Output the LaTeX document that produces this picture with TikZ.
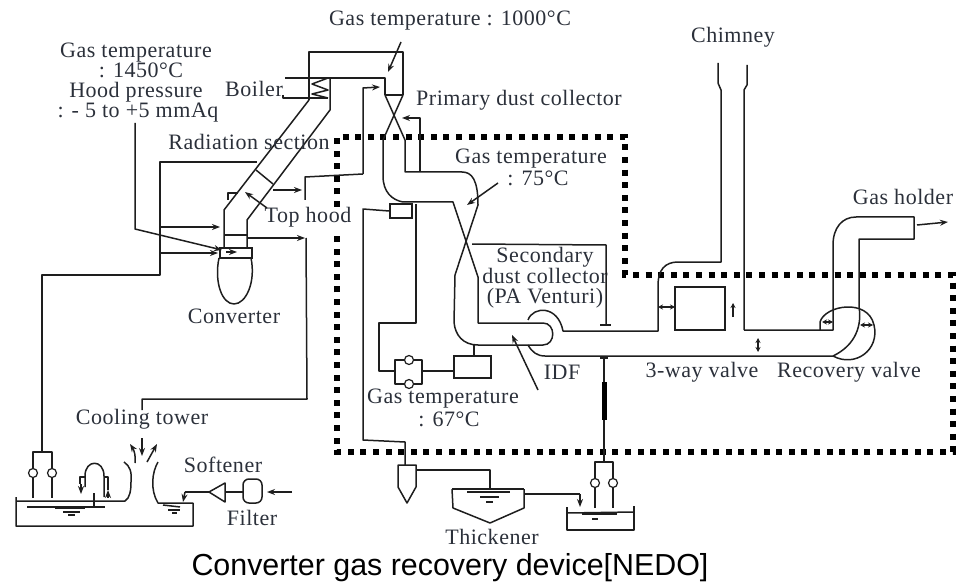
\documentclass[tikz,border=0pt]{standalone}
\usepackage{fontspec}
\setmainfont[LetterSpace=2.4]{Liberation Serif}
\newfontfamily\capfont{Liberation Sans}
\usetikzlibrary{arrows.meta}
\definecolor{ink}{HTML}{1E1E1E}
\definecolor{txt}{HTML}{2B303A}
\tikzset{
  pipe/.style={draw=ink,line width=1.5pt,line join=round},
  thin pipe/.style={draw=ink,line width=1.1pt},
  thick bar/.style={draw=ink,line width=2.8pt},
  arr/.style={pipe,-{Stealth[length=8pt,width=6pt]}},
  darr/.style={pipe,{Stealth[length=5pt,width=5pt]}-{Stealth[length=5pt,width=5pt]}},
  lbl/.style={inner sep=0pt,text=txt,font=\fontsize{22}{20}\selectfont},
  frame/.style={draw=black,line width=6pt,dash pattern=on 6pt off 6.6pt},
  valve/.style={circle,draw=ink,fill=white,line width=1.2pt,minimum size=9pt,inner sep=0pt},
  boxn/.style={draw=ink,line width=1.5pt,inner sep=0pt,fill=none}
}
\begin{document}
\begin{tikzpicture}[x=1pt,y=-1pt]
\useasboundingbox (0,0) rectangle (957,585);

% dotted enclosure
\draw[frame] (337,207) -- (337,137) -- (625,137) -- (625,275) -- (953,275) -- (953,452) -- (337,452) -- (337,234);

% boiler, duct and radiation section
\draw[pipe] (309,100) -- (309,52) -- (403,52) -- (403,95);
\draw[pipe] (328,78) -- (385,78) -- (385,95);
\draw[thick bar] (385,95) -- (403,95);
\draw[pipe] (309,100) -- (224,210) -- (224,248);
\draw[pipe] (330,78) -- (330,110) -- (247,220) -- (247,248);
\draw[pipe] (224,235) -- (247,235);
\draw[pipe] (256,170) -- (273,184);
\draw[pipe] (285,78) -- (328,78);
\draw[pipe] (283,95) -- (283,98) -- (328,98);
\draw[pipe] (328,78) -- (312,84) -- (328,90) -- (312,94) -- (328,98);
\node[boxn,minimum width=32pt,minimum height=10pt] (hood) at (236,253) {};
\draw[pipe] (219,258) .. controls (214,282) and (222,304) .. (234,304) .. controls (246,304) and (256,282) .. (251,258);
\draw[pipe] (228,200) -- (228,193) -- (238,193);

% primary dust collector
\draw[pipe] (385,95) -- (405,140) -- (405,172) -- (462,172) .. controls (472,172) and (478,180) .. (478,205) -- (455,275) -- (454,322) .. controls (455,335) and (463,345) .. (478,345) -- (543,345) .. controls (556,345) and (556,323) .. (543,323) -- (478,323) -- (478,277) -- (453,202) -- (403,202) .. controls (392,200) and (383,192) .. (383,176) -- (383,140) -- (403,95);

% secondary collector drains
\node[boxn,minimum width=22pt,minimum height=14pt] (sensor) at (401,211) {};
\draw[pipe] (sensor.west) -- (363,209) -- (363,440) -- (405,442) -- (405,465);
\draw[pipe] (416,204) -- (416,323) -- (379,323) -- (379,371) -- (395,371);
\draw[pipe] (395,360) rectangle (422,384);
\node[valve] (v1) at (409,360) {};
\node[valve] (v2) at (409,384) {};
\node[boxn,minimum width=37pt,minimum height=22pt] (ctrl) at (472.5,367) {};
\draw[pipe] (422,371) -- (ctrl.west |- 0,371);
\draw[pipe] (474,345) -- (474,356);

% cyclone and thickener
\draw[pipe] (398,465) -- (416,465) -- (416,487) -- (407,503) -- (398,487) -- cycle;
\draw[pipe] (416,470) -- (490,470) -- (490,488);
\draw[pipe] (452,489) -- (524,489);
\draw[pipe] (452,489) -- (453,508) -- (490,523) -- (524,508) -- (524,489);
\draw[thick bar] (467,492) -- (510,492);
\draw[pipe] (480,497) -- (499,497);
\draw[pipe] (486,502) -- (493,502);
\draw[thin pipe] (524,494) -- (580,494);
\draw[arr] (580,494) -- (580,507);

% right tank
\draw[pipe] (567,507) -- (567,530) -- (634,530) -- (634,506);
\draw[pipe] (567,513) -- (634,512);
\draw[thick bar] (582,514) -- (617,514);
\draw[pipe] (592,519) -- (598,519);
\draw[pipe] (595,508) -- (595,462) -- (613,462) -- (613,508);
\node[valve] at (595,483) {};
\node[valve] at (613,483) {};

% IDF, main line, chimney
\draw[pipe] (528,320) .. controls (533,306) and (558,305) .. (563,331) -- (658,331) -- (658,285) .. controls (658,270) and (665,262) .. (678,262) -- (721,262) -- (721,90) -- (718,83) -- (718,63);
\draw[pipe] (528,345) .. controls (532,352) and (537,356) .. (545,356) -- (833,356);
\node[boxn,minimum width=50pt,minimum height=43pt] (threeway) at (700,308.5) {};
\draw[pipe] (744,330) -- (744,90) -- (747,85) -- (747,65);
\draw[pipe] (744,330) -- (833,330) -- (833,245) .. controls (833,228) and (842,217) .. (856,217) -- (914,217) -- (914,239) -- (859,239) -- (859,307);
\draw[pipe] (859,307) .. controls (862,325) and (856,345) .. (833,356);
\draw[pipe] (820,330) -- (820,322) .. controls (825,305) and (868,298) .. (874,325) .. controls (880,350) and (855,368) .. (833,356);
\draw[pipe] (604,358) -- (604,462);
\draw[line width=5pt,draw=black] (604,382) -- (604,420);
\draw[pipe] (600,358) -- (608,358);

\draw[darr] (658,307) -- (675,307);
\draw[arr,-{Stealth[length=5pt,width=5pt]}] (733,317) -- (733,303);
\draw[darr] (758,338) -- (758,352);
\draw[darr] (822,322) -- (833,322);
\draw[darr] (860,325) -- (873,325);

% water circuit, left
\draw[pipe] (42,448) -- (42,275) -- (160,275) -- (160,162) -- (257,162);
\draw[arr] (160,227) -- (220,227);
\draw[arr] (160,253) -- (218,253);
\draw[arr] (226,252) -- (237,252);
\draw[arr] (273,190) -- (302,190);
\draw[arr] (248,238) -- (305,238);
\draw[pipe] (305,200) -- (305,177) -- (363,174);
\draw[arr] (363,174) -- (363,88) -- (380,87);
\draw[arr] (420,172) -- (420,118) -- (402,118);
\draw[pipe] (306,238) -- (307,399) -- (142,399) -- (142,410);

% cooling tower and left tank
\draw[pipe] (33,498) -- (33,452) -- (52,452) -- (52,498);
\draw[pipe] (42,448) -- (42,452);
\node[valve] at (33,473) {};
\node[valve] at (52,473) {};
\draw[pipe] (16,497) -- (16,526) -- (193,526) -- (193,503) -- (158,503) .. controls (150,490) and (152,472) .. (158,462);
\draw[pipe] (16,501) -- (125,501) .. controls (130,498) and (131,490) .. (131,482) .. controls (132,472) and (130,466) .. (124,462);
\draw[pipe] (27,507) -- (105,507);
\draw[thick bar] (55,508) -- (85,508);
\draw[pipe] (63,512) -- (80,512);
\draw[pipe] (68,515) -- (75,515);
\draw[pipe] (94,493) -- (94,507);
\draw[pipe] (85,487) -- (85,476) .. controls (85,459) and (104,459) .. (104,476) -- (104,497);
\draw[pipe] (85,477) -- (80,477) -- (80,484);
\draw[arr] (81,484) -- (81,494);
\draw[arr] (108,498) -- (108,490);
\draw[pipe] (108,490) -- (108,477) -- (104,477);
\draw[pipe] (163,505) -- (180,507);
\draw[thick bar] (168,510) -- (180,510);
\draw[pipe] (172,513) -- (177,513);
\draw[arr] (142,438) -- (142,456);
\draw[arr] (135,463) .. controls (136,456) and (134,450) .. (130,444);
\draw[arr] (147,462) -- (157,444);
\draw[pipe] (209,492) -- (185,492);
\draw[arr] (185,492) -- (183,502);
\draw[pipe] (209,492) -- (225,483) -- (225,502) -- cycle;
\draw[pipe] (225,492) -- (243,492);
\draw[pipe,rounded corners=6pt] (243,503) -- (243,479) -- (262,479) -- (262,503) -- cycle;
\draw[arr] (292,492) -- (267,492);

% labels
\node[lbl,align=center] (t1) at (136,83) {Gas temperature\\\hspace*{10pt}: 1450°C\\Hood pressure\hspace*{6pt}\\\hspace*{4pt}: - 5 to +5 mmAq};
\node[lbl] (boiler) at (254,89) {Boiler};
\node[lbl] (rad) at (249,142) {Radiation section};
\node[lbl] (tophood) at (308,217) {Top hood};
\node[lbl] (t1000) at (450,21) {Gas temperature : 1000°C};
\node[lbl] (primary) at (519,100) {Primary dust collector};
\node[lbl] (chimney) at (733,37) {Chimney};
\node[lbl] (t75a) at (531,159) {Gas temperature};
\node[lbl] (t75b) at (538,178) {: 75°C};
\node[lbl] (holder) at (903,197) {Gas holder};
\node[lbl,align=center] (sec) at (545,278) {Secondary\\dust collector\\(PA Venturi)};
\node[lbl] (idf) at (562,372) {IDF};
\node[lbl] (way) at (702,372) {3-way valve};
\node[lbl] (rec) at (849,372) {Recovery valve};
\node[lbl] (conv) at (234,316) {Converter};
\node[lbl] (cool) at (142,419) {Cooling tower};
\node[lbl] (soft) at (223,465) {Softener};
\node[lbl] (filt) at (252,518) {Filter};
\node[lbl] (t67a) at (443,399) {Gas temperature};
\node[lbl] (t67b) at (449,419) {: 67°C};
\node[lbl] (thick) at (492,537) {Thickener};
\node[inner sep=0pt,text=black,font=\capfont\fontsize{30.4}{32}\selectfont] (cap) at (450,568) {Converter gas recovery device[NEDO]};

% leaders
\draw[arr] (135,123) -- (135,229) -- (222,250);
\draw[arr] (401,42) -- (388,72);
\draw[arr] (498,183) -- (467,205);
\draw[arr] (267,208) -- (245,192);
\draw[arr] (538,390) -- (512,335);
\draw[arr] (917,225) -- (948,222);
\draw[pipe] (472,244) -- (606,245) -- (606,325);
\draw[pipe] (600,325) -- (611,325);
\end{tikzpicture}
\end{document}
